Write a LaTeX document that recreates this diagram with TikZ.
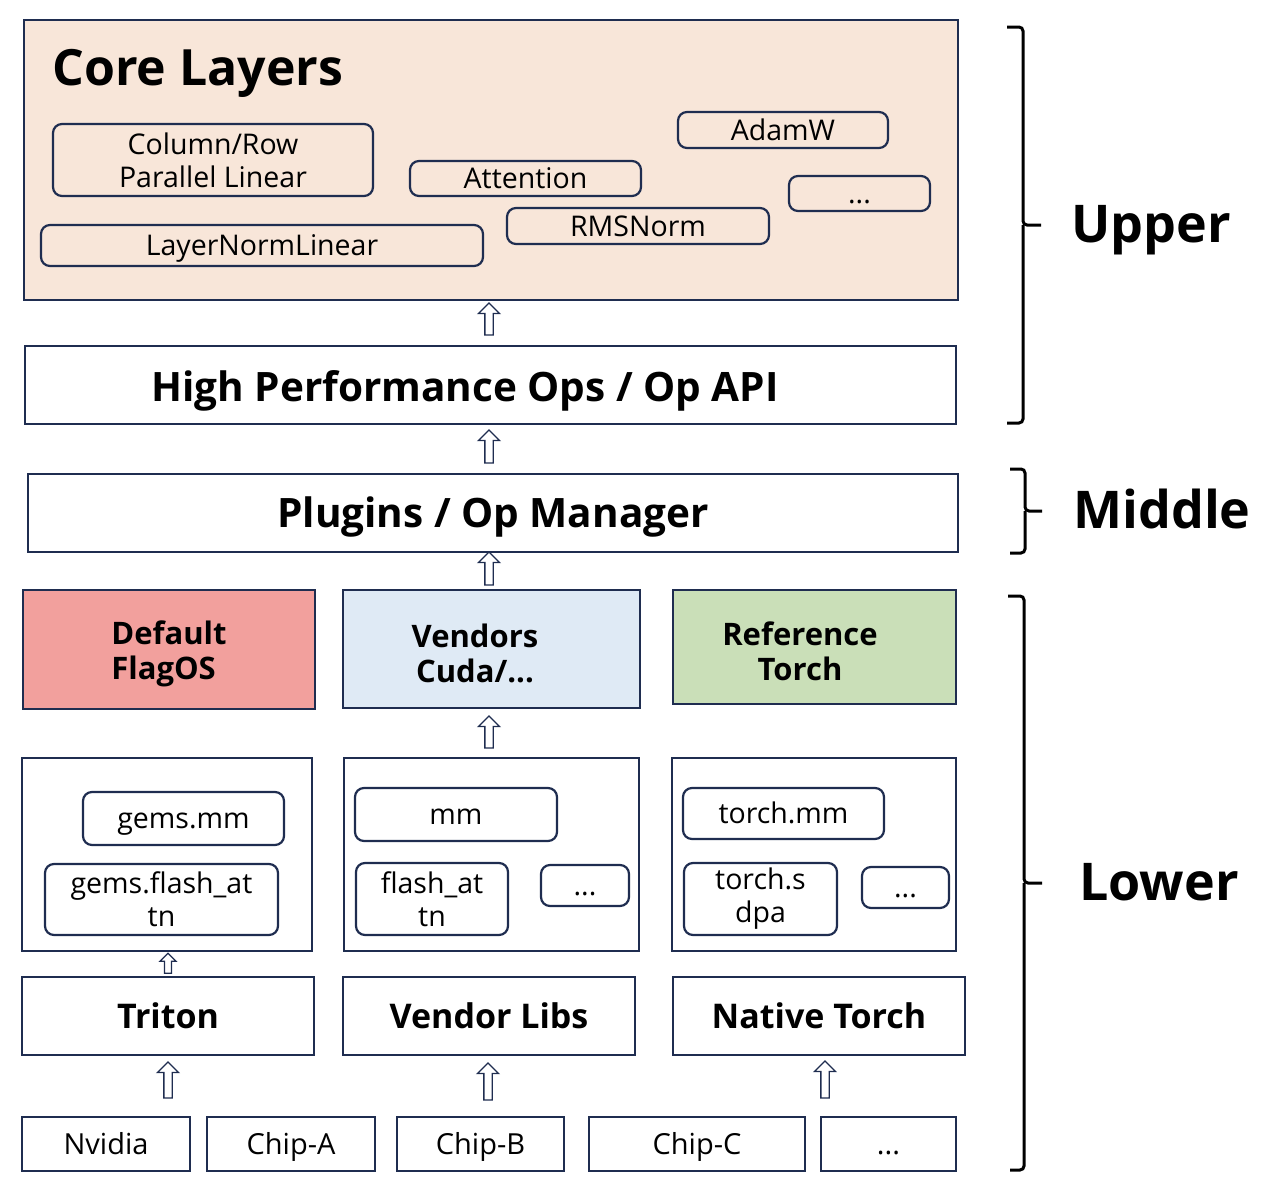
\documentclass[tikz,border=0pt]{standalone}
\usepackage{fontspec}
\setmainfont{Open Sans}
\usetikzlibrary{shapes.arrows,calc}
\definecolor{navy}{HTML}{1F2D50}
\definecolor{corefill}{HTML}{F8E6D9}
\definecolor{flagfill}{HTML}{F2A09D}
\definecolor{vendfill}{HTML}{DFEAF5}
\definecolor{reffill}{HTML}{CADFB8}
\tikzset{
  box/.style={draw=navy, line width=2.4pt, inner sep=0pt, align=center},
  rbox/.style={draw=navy, line width=2.2pt, rounded corners=9pt, inner sep=0pt, align=center,
    font=\fontsize{28.5}{33}\selectfont},
  oneline/.style={text height=#1, text depth=0pt},
  bigbold/.style={font=\fontsize{40.5}{46}\selectfont\bfseries, oneline=29pt},
  midbold/.style={font=\fontsize{31}{35}\selectfont\bfseries},
  lowbold/.style={font=\fontsize{34}{40}\selectfont\bfseries, oneline=24.5pt},
  chip/.style={box, font=\fontsize{29}{33}\selectfont, oneline=20.5pt},
  uparrow/.style={draw=navy, fill=white, line width=1.3pt, shape=single arrow, shape border rotate=90,
    inner sep=3.5pt, single arrow head extend=6.5pt, single arrow tip angle=90, minimum height=33pt},
  smallarrow/.style={uparrow, inner sep=2.8pt, single arrow head extend=4.5pt, minimum height=20pt},
  brace/.style={draw=black, line width=3pt, rounded corners=4pt},
  side/.style={font=\fontsize{52}{60}\selectfont\bfseries, anchor=center, inner sep=0pt, oneline=37pt}
}
\begin{document}
\begin{tikzpicture}[x=1pt,y=-1pt]
\useasboundingbox (0,0) rectangle (1280,1191);
% Core layers
\node[box, fill=corefill, minimum width=934pt, minimum height=280pt] (core) at (491,160) {};
\node[anchor=base west, inner sep=0pt, font=\fontsize{50}{60}\selectfont\bfseries] (coret) at (52,85) {Core Layers};
\node[rbox, minimum width=320pt, minimum height=72pt] (colrow) at (213,160) {Column/Row\\Parallel Linear};
\node[rbox, oneline=20pt, minimum width=442pt, minimum height=41pt] (lnl) at (262,245.5) {LayerNormLinear};
\node[rbox, oneline=20pt, minimum width=231pt, minimum height=35pt] (attn) at (525.5,178.5) {Attention};
\node[rbox, oneline=20pt, minimum width=262pt, minimum height=36pt] (rms) at (638,226) {RMSNorm};
\node[rbox, oneline=20pt, minimum width=210pt, minimum height=36pt] (adam) at (783,130) {AdamW};
\node[rbox, oneline=20pt, minimum width=141pt, minimum height=35pt] (dots1) at (859.5,193.5) {...};
% Ops
\node[box, minimum width=931pt, minimum height=78pt] (hp) at (490.5,385) {};
\node[bigbold, inner sep=0pt] (hpt) at (465,387) {High Performance Ops / Op API};
\node[box, bigbold, minimum width=930pt, minimum height=78pt] (plug) at (493,513) {Plugins / Op Manager};
% Backends
\node[box, fill=flagfill, minimum width=292pt, minimum height=119pt] (flag) at (169,649.5) {};
\node[midbold, align=left, inner sep=0pt] (flagt) at (169,654) {Default\\FlagOS};
\node[box, fill=vendfill, minimum width=297pt, minimum height=118pt] (vend) at (491.5,649) {};
\node[midbold, align=center, inner sep=0pt] (vendt) at (475,653) {Vendors\\Cuda/...};
\node[box, fill=reffill, minimum width=283pt, minimum height=114pt] (ref) at (814.5,647) {};
\node[midbold, align=center, inner sep=0pt] (reft) at (800,651) {Reference\\Torch};
% Containers
\node[box, minimum width=290pt, minimum height=193pt] (c1) at (167,854.5) {};
\node[rbox, oneline=20pt, minimum width=201pt, minimum height=53pt] (gmm) at (183.5,818.5) {gems.mm};
\node[rbox, minimum width=233pt, minimum height=71pt] (gfa) at (161.5,899.5) {gems.flash\_at\\tn};
\node[box, minimum width=295pt, minimum height=193pt] (c2) at (491.5,854.5) {};
\node[rbox, oneline=20pt, minimum width=202pt, minimum height=53pt] (vmm) at (456,814.5) {mm};
\node[rbox, minimum width=152pt, minimum height=72pt] (vfa) at (432,899) {flash\_at\\tn};
\node[rbox, oneline=20pt, minimum width=88pt, minimum height=41pt] (dots2) at (585,885.5) {...};
\node[box, minimum width=284pt, minimum height=193pt] (c3) at (814,854.5) {};
\node[rbox, oneline=20pt, minimum width=201pt, minimum height=51pt] (tmm) at (783.5,813.5) {torch.mm};
\node[rbox, minimum width=153pt, minimum height=72pt] (tsd) at (760.5,899) {torch.s\\dpa};
\node[rbox, oneline=20pt, minimum width=87pt, minimum height=41pt] (dots3) at (905.5,887.5) {...};
% Libraries
\node[box, lowbold, minimum width=292pt, minimum height=78pt] (triton) at (168,1016) {Triton};
\node[box, lowbold, minimum width=292pt, minimum height=78pt] (vlibs) at (489,1016) {Vendor Libs};
\node[box, lowbold, minimum width=292pt, minimum height=78pt] (ntorch) at (819,1016) {Native Torch};
% Chips
\node[chip, minimum width=168pt, minimum height=54pt] (nv) at (106,1144) {Nvidia};
\node[chip, minimum width=168pt, minimum height=54pt] (ca) at (291,1144) {Chip-A};
\node[chip, minimum width=167pt, minimum height=54pt] (cb) at (480.5,1144) {Chip-B};
\node[chip, minimum width=216pt, minimum height=54pt] (cc) at (697,1144) {Chip-C};
\node[chip, minimum width=135pt, minimum height=54pt] (dots4) at (888.5,1144) {...};
% Arrows
\node[uparrow, minimum height=32pt] (a1) at (489,321) {};
\node[uparrow] (a2) at (489,448.5) {};
\node[uparrow] (a3) at (489,570.5) {};
\node[uparrow, minimum height=32pt] (a4) at (489,734) {};
\node[smallarrow] (a5) at (168,965) {};
\node[uparrow, minimum height=36pt] (a6) at (168,1082) {};
\node[uparrow, minimum height=37pt] (a7) at (488,1083.5) {};
\node[uparrow, minimum height=37pt] (a8) at (825,1081.5) {};
% Braces
\draw[brace] (1007,27) -- (1023,27) -- (1023,225) -- (1041,225);
\draw[brace] (1023,225) -- (1023,423) -- (1007,423);
\draw[brace] (1010,469) -- (1025,469) -- (1025,511) -- (1042,511);
\draw[brace] (1025,511) -- (1025,553) -- (1010,553);
\draw[brace] (1008,596) -- (1024,596) -- (1024,883) -- (1042,883);
\draw[brace] (1024,883) -- (1024,1170) -- (1010,1170);
\node[side] (upper) at (1151,224) {Upper};
\node[side] (middle) at (1162,510) {Middle};
\node[side] (lower) at (1159,882) {Lower};
\end{tikzpicture}
\end{document}
